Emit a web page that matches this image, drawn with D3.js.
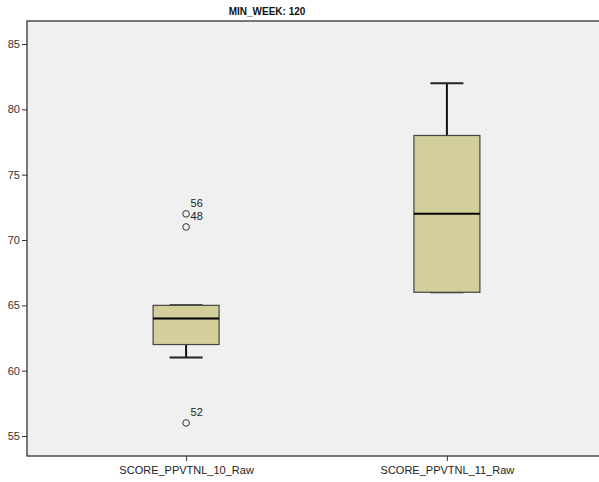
<!DOCTYPE html>
<html>
<head>
<meta charset="utf-8">
<script src="https://cdn.jsdelivr.net/npm/d3@7"></script>
<style>
body { margin: 0; background: #fff; }
text { font-family: "Liberation Sans", Arial, sans-serif; }
</style>
</head>
<body>
<div id="chart"></div>
<script>

let width = 599

let height = 482

let plotLeft = 27, plotRight = 606, plotTop = 21, plotBottom = 456

let titleText = 'MIN_WEEK: 120'

let categories = ['SCORE_PPVTNL_10_Raw', 'SCORE_PPVTNL_11_Raw']

let lowWhisker = [61, 66]

let q1 = [62, 66]

let median = [64, 72]

let q3 = [65, 78]

let highWhisker = [65, 82]

let outlierValues = [[72, 71, 56], []]

let outlierLabels = [['56', '48', '52'], []]

let yTicks = [55, 60, 65, 70, 75, 80, 85]

let boxes = categories.map((c, i) => ({
	name: c,
	low: lowWhisker[i],
	q1: q1[i],
	median: median[i],
	q3: q3[i],
	high: highWhisker[i],
	outliers: outlierValues[i].map((v, j) => ({value: v, label: outlierLabels[i][j]}))
}))

const svg = d3.select('#chart')
	.append('svg')
	.attr('width', width)
	.attr('height', height)

let x = d3.scalePoint()
	.domain(categories)
	.range([plotLeft, plotRight])
	.padding(0.61)

let y = d3.scaleLinear()
	.domain([53.47, 86.76])
	.range([plotBottom, plotTop])

// plot background
svg.append('rect')
	.attr('x', plotLeft)
	.attr('y', plotTop)
	.attr('width', plotRight - plotLeft)
	.attr('height', plotBottom - plotTop)
	.attr('fill', '#f0f0f0')
	.attr('stroke', '#333')
	.attr('stroke-width', 1.3)

svg.append('text')
	.attr('x', 267)
	.attr('y', 15)
	.attr('text-anchor', 'middle')
	.attr('font-size', 10)
	.attr('font-weight', 'bold')
	.attr('fill', '#111')
	.text(titleText)

let yAxis = g => g.attr('transform', `translate(${plotLeft},0)`)
	.call(d3.axisLeft(y).tickValues(yTicks).tickSize(5).tickPadding(2))
	.call(g => g.select('.domain').remove())

svg.append('g').call(yAxis)
	.call(g => g.selectAll('line').attr('stroke', '#333'))
	.selectAll('text')
	.attr('font-size', 11)
	.attr('fill', '#333')
	.attr('font-family', '"Liberation Sans", Arial, sans-serif')

let xAxis = g => g.attr('transform', `translate(0,${plotBottom})`)
	.call(d3.axisBottom(x).tickSize(5).tickPadding(5))
	.call(g => g.select('.domain').remove())

svg.append('g').call(xAxis)
	.call(g => g.selectAll('line').attr('stroke', '#333'))
	.selectAll('text')
	.attr('font-size', 11)
	.attr('fill', '#222')
	.attr('font-family', '"Liberation Sans", Arial, sans-serif')

let boxWidth = 66

let capWidth = 33

let group = svg.selectAll('.box')
	.data(boxes)
	.enter()
	.append('g')
	.attr('class', 'box')

// whisker stems
group.append('line')
	.attr('x1', d => x(d.name))
	.attr('x2', d => x(d.name))
	.attr('y1', d => y(d.high))
	.attr('y2', d => y(d.low))
	.attr('stroke', '#111')
	.attr('stroke-width', 2)

group.selectAll('.cap')
	.data(d => [d.low, d.high].map(v => ({name: d.name, v: v})))
	.enter()
	.append('line')
	.attr('x1', d => x(d.name) - capWidth / 2)
	.attr('x2', d => x(d.name) + capWidth / 2)
	.attr('y1', d => y(d.v))
	.attr('y2', d => y(d.v))
	.attr('stroke', '#222')
	.attr('stroke-width', 2)

group.append('rect')
	.attr('x', d => x(d.name) - boxWidth / 2)
	.attr('width', boxWidth)
	.attr('y', d => y(d.q3))
	.attr('height', d => y(d.q1) - y(d.q3))
	.attr('fill', '#d3cf9b')
	.attr('stroke', '#444')
	.attr('stroke-width', 1.2)

group.append('line')
	.attr('x1', d => x(d.name) - boxWidth / 2)
	.attr('x2', d => x(d.name) + boxWidth / 2)
	.attr('y1', d => y(d.median))
	.attr('y2', d => y(d.median))
	.attr('stroke', '#000')
	.attr('stroke-width', 2)

group.selectAll('.outlier')
	.data(d => d.outliers.map(o => ({name: d.name, value: o.value, label: o.label})))
	.enter()
	.append('circle')
	.attr('cx', d => x(d.name))
	.attr('cy', d => y(d.value))
	.attr('r', 3.3)
	.attr('fill', 'none')
	.attr('stroke', '#333')
	.attr('stroke-width', 1)

group.selectAll('.olabel')
	.data(d => d.outliers.map(o => ({name: d.name, value: o.value, label: o.label})))
	.enter()
	.append('text')
	.attr('x', d => x(d.name) + 4.5)
	.attr('y', d => y(d.value) - 7)
	.attr('font-size', 11)
	.attr('fill', '#222')
	.text(d => d.label)

</script>
</body>
</html>
